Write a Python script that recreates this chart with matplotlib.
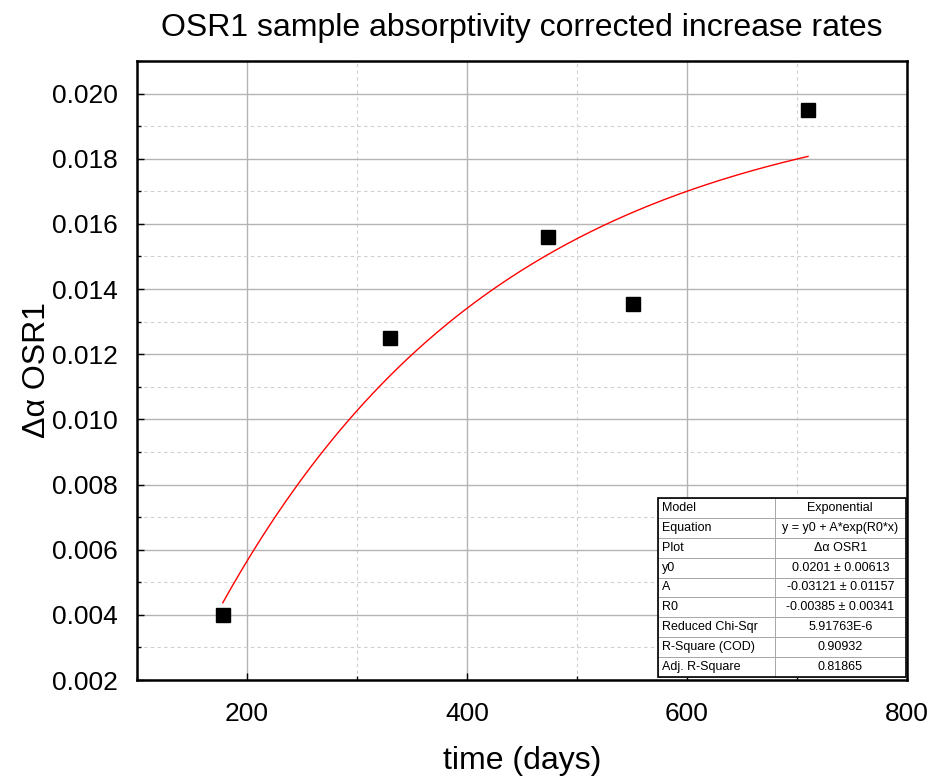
import numpy as np
import matplotlib
matplotlib.use('Agg')
import matplotlib.pyplot as plt
from matplotlib.ticker import MultipleLocator

plt.rcParams['font.family'] = ['Liberation Sans', 'DejaVu Sans']

# measured points
time_days = [178, 330, 474, 551, 710]
delta_alpha = [0.0040, 0.0125, 0.0156, 0.01355, 0.0195]

# exponential fit parameters (from the fit table)
fit_y0 = 0.0201
fit_A = -0.03121
fit_R0 = -0.00385

table_rows = [
    ('Model', 'Exponential'),
    ('Equation', 'y = y0 + A*exp(R0*x)'),
    ('Plot', 'Δα OSR1'),
    ('y0', '0.0201 ± 0.00613'),
    ('A', '-0.03121 ± 0.01157'),
    ('R0', '-0.00385 ± 0.00341'),
    ('Reduced Chi-Sqr', '5.91763E-6'),
    ('R-Square (COD)', '0.90932'),
    ('Adj. R-Square', '0.81865'),
]

fig = plt.figure(figsize=(9.3, 7.77), dpi=100)
ax = fig.add_axes([137 / 930, 1 - 680 / 777, 770 / 930, 619 / 777])

xfit = np.linspace(min(time_days), max(time_days), 200)
yfit = fit_y0 + fit_A * np.exp(fit_R0 * xfit)
ax.plot(xfit, yfit, color='red', linewidth=1.0, zorder=3)
ax.plot(time_days, delta_alpha, linestyle='none', marker='s',
        markersize=10, color='black', zorder=4)

ax.set_xlim(100, 800)
ax.set_ylim(0.002, 0.021)
ax.xaxis.set_major_locator(MultipleLocator(200))
ax.xaxis.set_minor_locator(MultipleLocator(100))
ax.yaxis.set_major_locator(MultipleLocator(0.002))
ax.yaxis.set_minor_locator(MultipleLocator(0.001))
ax.set_xticks([200, 400, 600, 800])
ax.yaxis.set_major_formatter(matplotlib.ticker.FormatStrFormatter('%.3f'))

ax.grid(which='major', color='#b4b4b4', linewidth=1.0, linestyle='-')
ax.grid(which='minor', color='#cfcfcf', linewidth=0.8, linestyle=(0, (3, 3)))
ax.set_axisbelow(True)

ax.tick_params(which='both', direction='in', labelsize=19)
ax.tick_params(which='major', length=5, width=1)
ax.tick_params(which='minor', length=3, width=1)
ax.tick_params(axis='y', pad=14)
ax.tick_params(axis='x', pad=16)
for s in ax.spines.values():
    s.set_linewidth(1.8)

ax.set_xlabel('time (days)', fontsize=23, labelpad=14)
ax.set_ylabel('Δα OSR1', fontsize=23, labelpad=0)
ax.set_title('OSR1 sample absorptivity corrected increase rates',
             fontsize=23, pad=18)

tbl = ax.table(cellText=[list(r) for r in table_rows],
               cellLoc='center', colWidths=[0.47, 0.53],
               bbox=[(658 - 137) / 770, (680 - 677) / 619,
                     (906 - 658) / 770, (677 - 498) / 619],
               zorder=5)
tbl.auto_set_font_size(False)
tbl.set_fontsize(9)
for (r, c), cell in tbl.get_celld().items():
    cell.set_edgecolor('#a0a0a0')
    cell.set_linewidth(0.6)
    cell.set_facecolor('white')
    if c == 0:
        cell.get_text().set_ha('left')
        cell.PAD = 0.035
# outer border of the table
ax.add_patch(plt.Rectangle(((658 - 137) / 770, (680 - 677) / 619),
                           (906 - 658) / 770, (677 - 498) / 619,
                           transform=ax.transAxes, fill=False,
                           edgecolor='black', linewidth=1.2, zorder=6))

fig.savefig('out.png', dpi=100)
